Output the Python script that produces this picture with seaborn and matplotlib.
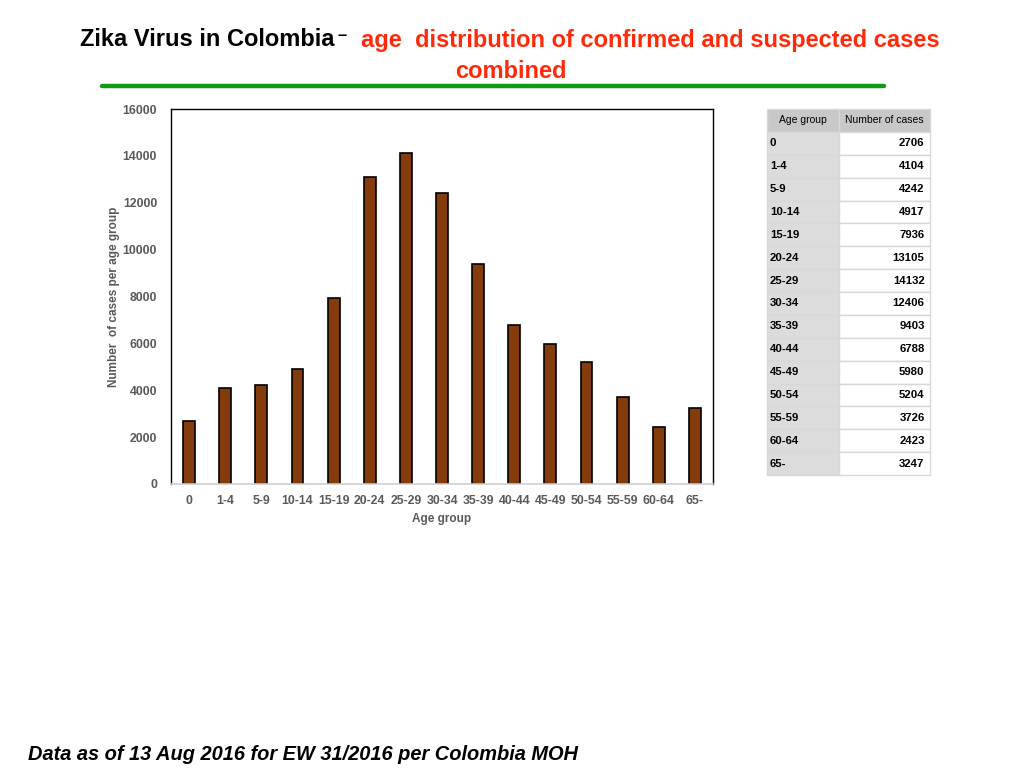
import matplotlib
matplotlib.use("Agg")
import matplotlib.pyplot as plt
import seaborn as sns
import pandas as pd

age_groups = ["0", "1-4", "5-9", "10-14", "15-19", "20-24", "25-29", "30-34",
              "35-39", "40-44", "45-49", "50-54", "55-59", "60-64", "65-"]
cases = [2706, 4104, 4242, 4917, 7936, 13105, 14132, 12406,
         9403, 6788, 5980, 5204, 3726, 2423, 3247]
y_ticks = [0, 2000, 4000, 6000, 8000, 10000, 12000, 14000, 16000]

sns.set_theme(style="white")
plt.rcParams['font.family'] = ['Liberation Sans', 'DejaVu Sans']

df = pd.DataFrame({"Age group": age_groups, "cases": cases})

W, H = 1024, 768
fig = plt.figure(figsize=(W / 100, H / 100), dpi=100)
fig.patch.set_facecolor("white")

ax = fig.add_axes([171 / W, 1 - 484 / H, (713 - 171) / W, (484 - 109) / H])
sns.barplot(data=df, x="Age group", y="cases", color="#843c0c", saturation=1,
            width=0.33, edgecolor="black", linewidth=1.2, ax=ax)
ax.set_xlim(-0.5, len(age_groups) - 0.5)
ax.set_ylim(0, 16000)
ax.set_yticks(y_ticks)
ax.set_yticklabels([str(v) for v in y_ticks])
gray = "#595959"
ax.tick_params(axis="both", length=0, labelsize=8.8, labelcolor=gray)
ax.tick_params(axis="x", pad=8)
ax.tick_params(axis="y", pad=10)
for lab in ax.get_xticklabels() + ax.get_yticklabels():
    lab.set_fontweight("bold")
ax.set_xlabel("Age group", fontsize=8.5, fontweight="bold", color=gray, labelpad=4)
ax.set_ylabel("Number  of cases per age group", fontsize=8.5, fontweight="bold",
              color=gray, labelpad=2)
for s in ["left", "top", "right"]:
    ax.spines[s].set_visible(True)
    ax.spines[s].set_color("black")
    ax.spines[s].set_linewidth(1.0)
ax.spines["bottom"].set_color("#d0d0d0")
ax.spines["bottom"].set_linewidth(1.2)
ax.grid(False)

# Title
fig.canvas.draw()
renderer = fig.canvas.get_renderer()
t_size = 17
t1 = fig.text(80 / W, 1 - 40 / H, "Zika Virus in Colombia", fontsize=t_size,
              fontweight="bold", color="black", ha="left", va="center")
bb = t1.get_window_extent(renderer)
t2 = fig.text((bb.x1 + 3) / W, 1 - 36 / H, "–", fontsize=t_size * 0.7,
              fontweight="bold", color="black", ha="left", va="center")
bb2 = t2.get_window_extent(renderer)
fig.text((bb2.x1 + 14) / W, 1 - 40 / H,
         "age  distribution of confirmed and suspected cases",
         fontsize=t_size, fontweight="bold", color="#ff2a0a", ha="left", va="center")
fig.text(511 / W, 1 - 71 / H, "combined", fontsize=t_size, fontweight="bold",
         color="#ff2a0a", ha="center", va="center")
fig.add_artist(plt.Line2D([102 / W, 884 / W], [1 - 86 / H, 1 - 86 / H],
                          color="#139a13", linewidth=3.2,
                          transform=fig.transFigure))

# Table
tab_ax = fig.add_axes([767 / W, 1 - 475 / H, (930 - 767) / W, (475 - 109) / H])
tab_ax.axis("off")
rows = [[g, str(c)] for g, c in zip(age_groups, cases)]
cell_colours = [["#dcdcdc", "white"] for _ in rows]
tbl = tab_ax.table(cellText=rows, colLabels=["Age group", "Number of cases"],
                   cellColours=cell_colours, colColours=["#c8c8c8", "#c8c8c8"],
                   colWidths=[0.44, 0.56], bbox=[0, 0, 1, 1], cellLoc="left")
tbl.auto_set_font_size(False)
for (r, c), cell in tbl.get_celld().items():
    cell.set_edgecolor("#d8d8d8")
    cell.set_linewidth(1.0)
    txt = cell.get_text()
    if r == 0:
        txt.set_fontsize(7.5)
        txt.set_fontweight("normal")
        cell.PAD = 0.03
        if c == 1:
            txt.set_ha("center")
            cell._loc = "center"
    else:
        txt.set_fontsize(8.2)
        txt.set_fontweight("bold")
        if c == 1:
            cell._loc = "right"
            txt.set_ha("right")
            cell.PAD = 0.06
        else:
            cell.PAD = 0.04
    txt.set_color("black")

fig.text(28 / W, 1 - 754 / H,
         "Data as of 13 Aug 2016 for EW 31/2016 per Colombia MOH",
         fontsize=14.4, fontweight="bold", fontstyle="italic", color="black",
         ha="left", va="center")

fig.savefig("out.png", dpi=100, facecolor="white")
